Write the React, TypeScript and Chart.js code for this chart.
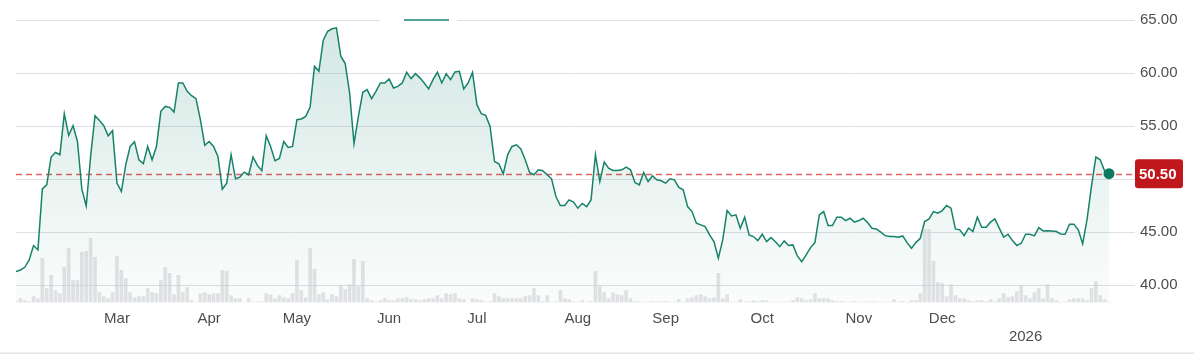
import React, { useEffect, useRef } from "react";
import { Chart, registerables } from "chart.js";

Chart.register(...registerables);

// Daily closing prices (trading-day index 0..249)
const prices: number[] = [
  41.26, 41.42, 41.67, 42.36, 43.72, 43.31, 49.07, 49.45, 52.07, 52.5,
  52.29, 56.16, 54.11, 55.03, 53.54, 49.04, 47.47, 52.13, 55.97, 55.53,
  55.03, 54.08, 54.56, 49.61, 48.82, 51.34, 53.07, 53.52, 51.81, 51.44,
  53.07, 51.81, 53.07, 56.38, 56.85, 56.76, 56.32, 59.06, 59.06, 58.27,
  57.86, 57.58, 55.6, 53.17, 53.54, 53.07, 52.13, 49.04, 49.61, 52.29,
  50.02, 50.18, 50.65, 50.4, 52.07, 51.28, 50.78, 54.08, 53.07, 51.72,
  51.94, 53.54, 52.98, 53.07, 55.6, 55.66, 55.91, 56.79, 60.63, 60.16,
  63.09, 63.94, 64.17, 64.26, 61.58, 60.89, 58.12, 53.33, 55.91, 58.18,
  58.43, 57.58, 58.27, 59.06, 59.06, 59.44, 58.59, 58.74, 59.06, 60.07,
  59.47, 59.94, 59.54, 59.06, 58.5, 59.38, 60.07, 59.06, 59.94, 59.38,
  60.1, 60.16, 58.5, 59.06, 60.07, 57.01, 56.16, 56.0, 54.96, 51.65,
  51.44, 50.49, 52.29, 53.07, 53.23, 52.83, 51.81, 50.61, 50.4, 50.87,
  50.78, 50.4, 50.02, 48.35, 47.5, 47.5, 48.03, 47.82, 47.25, 47.7,
  47.4, 48.03, 52.29, 49.76, 51.6, 51.03, 50.8, 50.8, 50.87, 51.12,
  50.87, 49.67, 49.45, 50.61, 49.76, 50.3, 49.92, 49.83, 49.61, 50.02,
  49.92, 49.2, 48.98, 47.4, 46.93, 45.83, 45.67, 45.51, 44.73, 44.09,
  42.52, 44.25, 47.02, 46.52, 46.62, 45.36, 46.4, 44.73, 44.57, 44.19,
  44.79, 44.09, 44.47, 44.09, 43.62, 44.16, 43.72, 43.78, 42.74, 42.2,
  42.84, 43.53, 44.0, 46.62, 46.93, 45.61, 45.61, 46.4, 46.4, 46.08,
  46.3, 45.93, 46.08, 46.3, 45.89, 45.36, 45.29, 44.98, 44.66, 44.57,
  44.57, 44.51, 44.63, 44.0, 43.47, 44.0, 44.41, 45.99, 46.24, 46.93,
  46.78, 47.02, 47.5, 47.25, 45.29, 45.2, 44.66, 45.36, 45.04, 46.4,
  45.45, 45.45, 45.93, 46.24, 45.36, 44.51, 44.79, 44.19, 43.72, 43.94,
  44.79, 44.79, 44.63, 45.42, 45.1, 45.13, 45.1, 45.04, 44.82, 44.79,
  45.74, 45.74, 45.2, 43.88, 46.2, 49.3, 52.07, 51.81, 50.75, 50.5,
];

// Daily volume (millions)
const volumes: number[] = [
  0.1, 0.4, 0.2, 0.1, 0.6, 0.4, 4.4, 1.4, 2.7, 1.2,
  0.9, 3.5, 5.4, 2.2, 2.2, 5.0, 5.1, 6.4, 4.5, 1.0,
  0.6, 0.4, 1.0, 4.6, 3.2, 2.4, 1.0, 0.5, 0.6, 0.6,
  1.4, 1.0, 0.9, 2.2, 3.5, 2.9, 0.8, 2.7, 1.0, 1.5,
  0.2, 0.0, 0.9, 1.0, 0.8, 0.9, 0.9, 3.2, 3.1, 0.7,
  0.4, 0.4, 0.0, 0.4, 0.05, 0.05, 0.1, 0.9, 0.8, 0.4,
  0.7, 0.5, 0.4, 0.9, 4.2, 1.2, 0.5, 5.4, 3.3, 0.8,
  1.0, 0.3, 0.8, 0.6, 1.7, 1.3, 1.8, 4.3, 1.6, 4.1,
  0.4, 0.2, 0.1, 0.2, 0.4, 0.2, 0.2, 0.4, 0.4, 0.5,
  0.3, 0.3, 0.2, 0.3, 0.4, 0.4, 0.7, 0.4, 0.9, 0.8,
  0.9, 0.4, 0.3, 0.0, 0.4, 0.3, 0.2, 0.05, 0.1, 0.9,
  0.6, 0.4, 0.4, 0.4, 0.4, 0.4, 0.6, 0.7, 1.4, 0.7,
  0.1, 0.7, 0.05, 0.1, 1.2, 0.4, 0.3, 0.1, 0.05, 0.2,
  0.05, 0.1, 3.1, 1.6, 1.0, 0.4, 1.0, 0.8, 0.7, 1.2,
  0.4, 0.1, 0.1, 0.05, 0.05, 0.1, 0.05, 0.1, 0.1, 0.05,
  0.05, 0.3, 0.05, 0.4, 0.5, 0.7, 0.8, 0.6, 0.4, 0.5,
  2.9, 0.4, 0.8, 0.05, 0.05, 0.3, 0.05, 0.1, 0.2, 0.1,
  0.2, 0.2, 0.05, 0.05, 0.05, 0.05, 0.05, 0.2, 0.5, 0.4,
  0.2, 0.3, 0.9, 0.4, 0.4, 0.4, 0.2, 0.1, 0.1, 0.05,
  0.05, 0.1, 0.05, 0.05, 0.05, 0.1, 0.05, 0.05, 0.05, 0.05,
  0.3, 0.05, 0.1, 0.05, 0.2, 0.2, 0.9, 7.3, 7.3, 4.1,
  2.0, 1.9, 0.6, 1.8, 0.7, 0.4, 0.4, 0.2, 0.1, 0.2,
  0.2, 0.1, 0.3, 0.1, 0.4, 0.9, 0.5, 0.6, 1.1, 1.7,
  0.7, 0.4, 1.0, 1.4, 0.4, 1.8, 0.4, 0.2, 0.05, 0.05,
  0.3, 0.4, 0.4, 0.4, 0.2, 1.4, 2.1, 0.7, 0.3, 0.05,
];

// First trading day index of each labelled month
const monthTickIndex: number[] = [23, 44, 64, 85, 105, 128, 148, 170, 192, 211, 230];
const monthTickLabels: (string | string[])[] = [
  "Mar", "Apr", "May", "Jun", "Jul", "Aug", "Sep", "Oct", "Nov", "Dec", ["", "2026"],
];
const priceTicks: number[] = [40, 45, 50, 55, 60, 65];
const lastPrice = 50.5;

const FONT = '"Liberation Sans", Arial, Helvetica, sans-serif';
const GREEN = "#16826a";
const LABEL = "#4d4d4d";

export default function App() {
  const canvasRef = useRef<HTMLCanvasElement | null>(null);

  useEffect(() => {
    const canvas = canvasRef.current;
    if (!canvas) return;

    const overlay = {
      id: "overlay",
      beforeDatasetsDraw(chart: any) {
        const { ctx, chartArea, scales } = chart;
        const y = scales.y.getPixelForValue(lastPrice);
        ctx.save();
        ctx.strokeStyle = "rgba(222, 90, 90, 0.95)";
        ctx.lineWidth = 1.3;
        ctx.setLineDash([6, 4]);
        ctx.beginPath();
        ctx.moveTo(chartArea.left, Math.round(y) + 0.5);
        ctx.lineTo(chartArea.right, Math.round(y) + 0.5);
        ctx.stroke();
        ctx.restore();
      },
      afterDraw(chart: any) {
        const { ctx, chartArea, scales, width } = chart;
        const y = scales.y.getPixelForValue(lastPrice);
        ctx.save();
        // price tag
        const bx = chartArea.right;
        const bw = 48;
        const bh = 29;
        ctx.fillStyle = "#c0171c";
        ctx.beginPath();
        (ctx as any).roundRect ? (ctx as any).roundRect(bx, y - bh / 2, bw, bh, 3) : ctx.rect(bx, y - bh / 2, bw, bh);
        ctx.fill();
        ctx.fillStyle = "#ffffff";
        ctx.font = `bold 15px ${FONT}`;
        ctx.textBaseline = "middle";
        ctx.textAlign = "left";
        ctx.fillText(lastPrice.toFixed(2), bx + 4, y + 1);
        // small tab indicator on top gridline
        const top = scales.y.getPixelForValue(65);
        ctx.fillStyle = "#ffffff";
        ctx.fillRect(380, top - 2.5, 77, 5);
        ctx.strokeStyle = GREEN;
        ctx.lineWidth = 1.5;
        ctx.beginPath();
        ctx.moveTo(404, top);
        ctx.lineTo(449, top);
        ctx.stroke();
        // bottom border
        ctx.fillStyle = "#dedfe2";
        ctx.fillRect(0, 352.5, width, 1.2);
        ctx.restore();
      },
    };

    const lastIdx = prices.length - 1;

    const chart = new Chart(canvas, {
      data: {
        datasets: [
          {
            type: "line",
            data: prices.map((p, i) => ({ x: i, y: p })),
            borderColor: GREEN,
            borderWidth: 1.5,
            tension: 0,
            fill: "start",
            backgroundColor: (ctx: any) => {
              const area = ctx.chart.chartArea;
              if (!area) return "rgba(18,127,99,0.1)";
              const g = ctx.chart.ctx.createLinearGradient(0, area.top, 0, area.bottom);
              g.addColorStop(0, "rgba(18,127,99,0.19)");
              g.addColorStop(0.55, "rgba(18,127,99,0.09)");
              g.addColorStop(1, "rgba(18,127,99,0.02)");
              return g;
            },
            pointRadius: (ctx: any) => (ctx.dataIndex === lastIdx ? 5.5 : 0),
            pointBackgroundColor: "#0b7a5e",
            pointBorderWidth: 0,
            pointHoverRadius: 0,
            yAxisID: "y",
            order: 2,
          } as any,
          {
            type: "bar",
            data: volumes.map((v, i) => ({ x: i, y: v })),
            backgroundColor: "rgba(200,202,207,0.55)",
            barThickness: 3,
            yAxisID: "vol",
            order: 1,
          } as any,
        ],
      },
      options: {
        responsive: false,
        animation: false,
        devicePixelRatio: 1,
        layout: { padding: { left: 16, top: 20, right: 0, bottom: 0 } },
        plugins: { legend: { display: false }, tooltip: { enabled: false } },
        events: [],
        scales: {
          x: {
            type: "linear",
            offset: false,
            min: 0,
            max: 254.92,
            grid: { display: false, drawTicks: false, offset: false },
            border: { display: false },
            afterBuildTicks: (scale: any) => {
              scale.ticks = monthTickIndex.map((v) => ({ value: v }));
            },
            afterFit: (scale: any) => {
              scale.height = 53.5;
            },
            ticks: {
              autoSkip: false,
              maxRotation: 0,
              padding: 7,
              color: LABEL,
              font: { family: FONT, size: 15 },
              callback: (value: any) => {
                const k = monthTickIndex.indexOf(Number(value));
                return k >= 0 ? monthTickLabels[k] : "";
              },
            },
          },
          y: {
            position: "right",
            min: 38.35,
            max: 65,
            grid: { color: "#dfe0e5", lineWidth: 1, drawTicks: false },
            border: { display: false },
            afterBuildTicks: (scale: any) => {
              scale.ticks = priceTicks.map((v) => ({ value: v }));
            },
            afterFit: (scale: any) => {
              scale.width = 59;
            },
            ticks: {
              padding: 5,
              color: LABEL,
              font: { family: FONT, size: 15 },
              callback: (v: any) => Number(v).toFixed(2),
            },
          },
          vol: {
            display: false,
            min: 0,
            max: 28.2,
          },
        },
      } as any,
      plugins: [overlay],
    });

    return () => chart.destroy();
  }, []);

  return (
    <div style={{ position: "absolute", left: 0, top: 0, width: 1194, height: 356, background: "#fff" }}>
      <canvas ref={canvasRef} width={1194} height={356} style={{ display: "block" }} />
    </div>
  );
}
